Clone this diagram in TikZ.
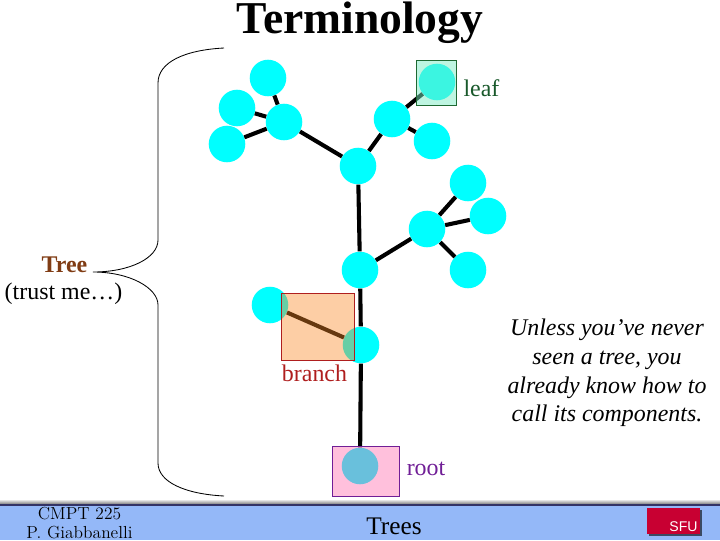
\documentclass[tikz,border=0pt]{standalone}
\usepackage{fontspec}
\usepackage{xcolor}
\usepackage{tikz}
\usetikzlibrary{positioning,calc}
\newfontfamily\timesfont{Liberation Serif}
\newfontfamily\sfufont{Liberation Sans}
\definecolor{nodecyan}{RGB}{0,255,255}
\definecolor{footblue}{RGB}{148,184,248}
\definecolor{leafgreen}{RGB}{122,235,194}
\definecolor{leafline}{RGB}{30,105,50}
\definecolor{branchfill}{RGB}{250,137,37}
\definecolor{branchline}{RGB}{175,30,30}
\definecolor{rootfill}{RGB}{255,102,170}
\definecolor{rootline}{RGB}{112,30,150}
\definecolor{treebrown}{RGB}{128,60,20}
\definecolor{sfured}{RGB}{200,0,50}
\tikzset{
  treenode/.style={circle, fill=nodecyan, minimum size=26pt, inner sep=0pt},
  edge/.style={line width=2.9pt, black},
  lbl/.style={font=\timesfont\fontsize{17}{20}\selectfont, inner sep=0pt},
  overlay box/.style={line width=0.7pt, fill opacity=0.41}
}
\begin{document}
\begin{tikzpicture}[x=0.025cm,y=-0.025cm]
    \useasboundingbox (0,0) rectangle (720,540);

    % Title
    \node[font=\timesfont\bfseries\fontsize{32.4}{36}\selectfont, inner sep=0pt] (title) at (360,23) {Terminology};

    % Tree
    \foreach \name/\x/\y in {n1/268/78, n2/237/108, n3/227/144, n4/284/122, n5/358/166,
        n6/392/119, leaf/437/82, n8/432/141, n9/468/183, n10/488/216, n11/427/229,
        n12/468/270, n13/360/270, n14/270/305, n15/361/345, rootn/360/466}
        \node[treenode] (\name) at (\x,\y) {};
    \foreach \a/\b in {n1/n4, n2/n4, n3/n4, n4/n5, n5/n6, n6/leaf, n6/n8, n5/n13,
        n13/n11, n11/n9, n11/n10, n11/n12, n13/n15, n15/n14, n15/rootn}
        \draw[edge] (\a) -- (\b);

    % Highlights
    \draw[overlay box, fill opacity=0.49, draw=leafline, fill=leafgreen] (416.5,60.5) rectangle (456.5,105);
    \draw[overlay box, draw=branchline, fill=branchfill] (281,293) rectangle (354,360);
    \draw[overlay box, draw=rootline, fill=rootfill] (332,446) rectangle (399,496);

    % Labels
    \node[lbl, text=leafline!85!black] (leaflbl) at (481.5,88) {leaf};
    \node[lbl, text=branchline] (branchlbl) at (314.5,373) {branch};
    \node[lbl, text=rootline] (rootlbl) at (426,469) {root};
    \node[lbl, text=treebrown, font=\timesfont\bfseries\fontsize{17}{20}\selectfont] (treelbl) at (64.5,264.5) {Tree};
    \node[lbl] (trustlbl) at (63.5,294) {(trust me…)};
    \node[lbl, align=center, font=\timesfont\itshape\fontsize{17}{20.3}\selectfont] (notelbl) at (607,373)
        {Unless you’ve never\\seen a tree, you\\already know how to\\call its components.};

    % Brace
    \draw[line width=0.6pt] (224,48) .. controls (185,50) and (158,62) .. (158,83)
        -- (158,240) .. controls (158,258) and (130,272) .. (93,272)
        .. controls (130,272) and (158,288) .. (158,305)
        -- (158,463) .. controls (158,482) and (185,494) .. (224,496);

    % Footer
    \fill[top color=white, bottom color=black!45] (0,499) rectangle (720,503.5);
    \fill[black!75!blue!80!white] (0,503.5) rectangle (720,506);
    \fill[footblue] (0,506) rectangle (720,540);
    \node[font=\fontsize{12.4}{16}\selectfont, inner sep=0pt] (course) at (79.5,513.5) {CMPT 225};
    \node[font=\fontsize{12.4}{16}\selectfont, inner sep=0pt] (teacher) at (79.5,533) {P. Giabbanelli};
    \node[font=\timesfont\fontsize{18}{20}\selectfont, inner sep=0pt] (footer) at (394,526) {Trees};

    % Logo
    \fill[black!60!footblue] (649,510) rectangle (702,536);
    \fill[sfured] (647,508) rectangle (700,534);
    \node[font=\sfufont\fontsize{10}{12}\selectfont, text=white, inner sep=0pt] (sfu) at (683.5,527) {SFU};
\end{tikzpicture}
\end{document}
